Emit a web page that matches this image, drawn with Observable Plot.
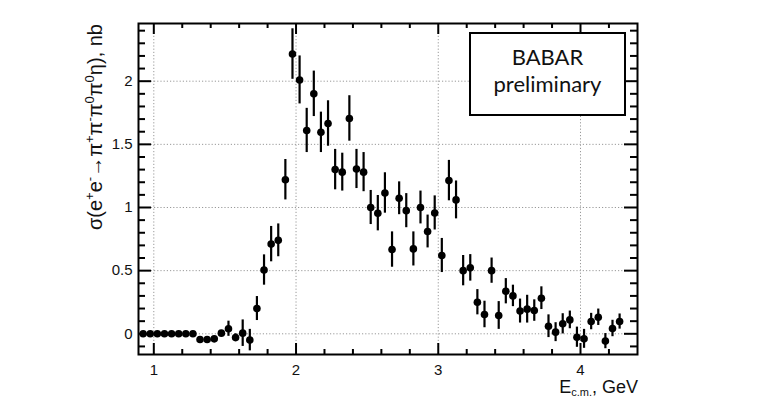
<!DOCTYPE html>
<html><head><meta charset="utf-8">
<script src="https://cdn.jsdelivr.net/npm/d3@7"></script>
<script src="https://cdn.jsdelivr.net/npm/@observablehq/plot@0.6"></script>
<style>body{margin:0;background:#fff;} #chart svg{display:block;}</style>
</head><body><div id="chart"></div>
<script>
// Bin centres, GeV
const energy = [0.925,0.975,1.025,1.075,1.125,1.175,1.225,1.275,1.325,1.375,1.425,1.475,1.525,1.575,1.625,1.675,1.725,1.775,1.825,1.875,1.925,1.975,2.025,2.075,2.125,2.175,2.225,2.275,2.325,2.375,2.425,2.475,2.525,2.575,2.625,2.675,2.725,2.775,2.825,2.875,2.925,2.975,3.025,3.075,3.125,3.175,3.225,3.275,3.325,3.375,3.425,3.475,3.525,3.575,3.625,3.675,3.725,3.775,3.825,3.875,3.925,3.975,4.025,4.075,4.125,4.175,4.225,4.275];
// Cross section, nb
const sigma = [0,0,0,0,0,0,0,0,-0.045,-0.045,-0.04,0.005,0.04,-0.03,0.005,-0.05,0.2,0.505,0.71,0.74,1.22,2.215,2.01,1.61,1.9,1.595,1.665,1.3,1.28,1.705,1.305,1.28,1.0,0.955,1.115,0.667,1.073,0.975,0.672,1.0,0.81,0.957,0.62,1.213,1.06,0.5,0.522,0.25,0.153,0.5,0.145,0.337,0.3,0.18,0.195,0.184,0.282,0.06,0.013,0.079,0.11,-0.027,-0.04,0.097,0.131,-0.058,0.042,0.097];
// Statistical errors, nb
const sigmaErr = [0.01,0.01,0.01,0.01,0.01,0.01,0.01,0.01,0.02,0.02,0.02,0.02,0.06,0.03,0.105,0.085,0.095,0.12,0.14,0.13,0.16,0.2,0.19,0.175,0.18,0.16,0.18,0.16,0.15,0.18,0.155,0.155,0.135,0.14,0.16,0.14,0.13,0.135,0.135,0.13,0.13,0.135,0.135,0.16,0.15,0.12,0.105,0.1,0.105,0.1,0.11,0.1,0.085,0.095,0.11,0.085,0.09,0.09,0.075,0.08,0.07,0.08,0.075,0.065,0.065,0.06,0.065,0.06];

const xTickLabels = [1, 2, 3, 4];
const yTickLabels = [0, 0.5, 1, 1.5, 2];
const xMinorTicks = [1.2,1.4,1.6,1.8,2.2,2.4,2.6,2.8,3.2,3.4,3.6,3.8,4.2];
const yMinorTicks = [-0.1,0.1,0.2,0.3,0.4,0.6,0.7,0.8,0.9,1.1,1.2,1.3,1.4,1.6,1.7,1.8,1.9,2.1,2.2,2.3,2.4];

const data = energy.map((e, i) => ({e, s: sigma[i], err: sigmaErr[i]}));

const W = 760, H = 404, mL = 138, mR = 123, mT = 23, mB = 50;
const pw = W - mL - mR, ph = H - mT - mB;
const font = "'Liberation Sans', Arial, Helvetica, sans-serif";
const gridStyle = {stroke: "#999", strokeOpacity: 1, strokeWidth: 1, strokeDasharray: "1.2,2"};
const tk = {stroke: "black", strokeWidth: 2};

const plot = Plot.plot({
  width: W, height: H,
  marginLeft: mL, marginRight: mR, marginTop: mT, marginBottom: mB,
  style: {fontFamily: font, fontSize: "15px", background: "white", color: "#111"},
  x: {domain: [0.8924, 4.4008]},
  y: {domain: [-0.1639, 2.4568]},
  marks: [
    Plot.gridX(xTickLabels, gridStyle),
    Plot.gridY(yTickLabels, gridStyle),
    // inward ticks on all four sides
    Plot.tickY(yTickLabels, {y: d => d, insetRight: pw - 13, ...tk}),
    Plot.tickY(yTickLabels, {y: d => d, insetLeft: pw - 13, ...tk}),
    Plot.tickY(yMinorTicks, {y: d => d, insetRight: pw - 7, ...tk}),
    Plot.tickY(yMinorTicks, {y: d => d, insetLeft: pw - 7, ...tk}),
    Plot.tickX(xTickLabels, {x: d => d, insetTop: ph - 11, ...tk}),
    Plot.tickX(xTickLabels, {x: d => d, insetBottom: ph - 11, ...tk}),
    Plot.tickX(xMinorTicks, {x: d => d, insetTop: ph - 5, ...tk}),
    Plot.tickX(xMinorTicks, {x: d => d, insetBottom: ph - 5, ...tk}),
    Plot.ruleX(data, {x: "e", y1: d => d.s - d.err, y2: d => d.s + d.err, stroke: "black", strokeWidth: 2.2}),
    Plot.dot(data, {x: "e", y: "s", r: 3.8, fill: "black", stroke: "none"}),
    Plot.frame({stroke: "black", strokeWidth: 2}),
    Plot.axisX(xTickLabels, {tickSize: 0, tickPadding: 10, fontSize: 15, fill: "#111", label: null, tickFormat: d => String(d)}),
    Plot.axisY(yTickLabels, {tickSize: 0, tickPadding: 6, fontSize: 15, fill: "#111", label: null, tickFormat: d => String(d)})
  ]
});

document.getElementById("chart").appendChild(plot);

const svg = d3.select(plot);
// enforce tick-label typography directly on the text nodes
svg.selectAll("g[aria-label='x-axis tick label'] text, g[aria-label='y-axis tick label'] text")
  .style("font-size", "15px")
  .style("font-family", font)
  .style("fill", "#111");

// Y-axis title (ROOT style, right-aligned at top)
const yt = svg.append("text")
  .attr("transform", `translate(102,${mT + 1}) rotate(-90)`)
  .attr("text-anchor", "end")
  .style("font-family", font).style("font-size", "20px").attr("fill", "#111");
const parts = [["σ(e",0],["+",1],["e",0],["-",1],["→π",0],["+",1],["π",0],["-",1],["π",0],["0",1],["π",0],["0",1],["η), nb",0]];
let prev = 0;
for (const [t, sup] of parts) {
  const dy = sup ? -8 : 0;
  const sp = yt.append("tspan").text(t).attr("dy", dy - prev);
  if (sup) sp.style("font-size", "13px");
  prev = dy;
}

// X-axis title
const xt = svg.append("text")
  .attr("x", W - mR + 1).attr("y", 393)
  .attr("text-anchor", "end")
  .style("font-family", font).style("font-size", "18px").attr("fill", "#111");
xt.append("tspan").text("E");
xt.append("tspan").text("c.m.").style("font-size", "11px").attr("dy", 3);
xt.append("tspan").text(", GeV").attr("dy", -3);

// BABAR preliminary box
const g = svg.append("g");
g.append("rect").attr("x", 470).attr("y", 33).attr("width", 155).attr("height", 82)
  .attr("fill", "white").attr("stroke", "black").attr("stroke-width", 2);
g.append("text").attr("x", 547.5).attr("y", 65).attr("text-anchor", "middle")
  .style("font-family", "Lato, 'Open Sans', sans-serif").style("font-size", "22px").attr("fill", "#111").text("BABAR");
g.append("text").attr("x", 547.5).attr("y", 92).attr("text-anchor", "middle")
  .style("font-family", "Lato, 'Open Sans', sans-serif").style("font-size", "22px").attr("fill", "#111").text("preliminary");
</script>
</body></html>
